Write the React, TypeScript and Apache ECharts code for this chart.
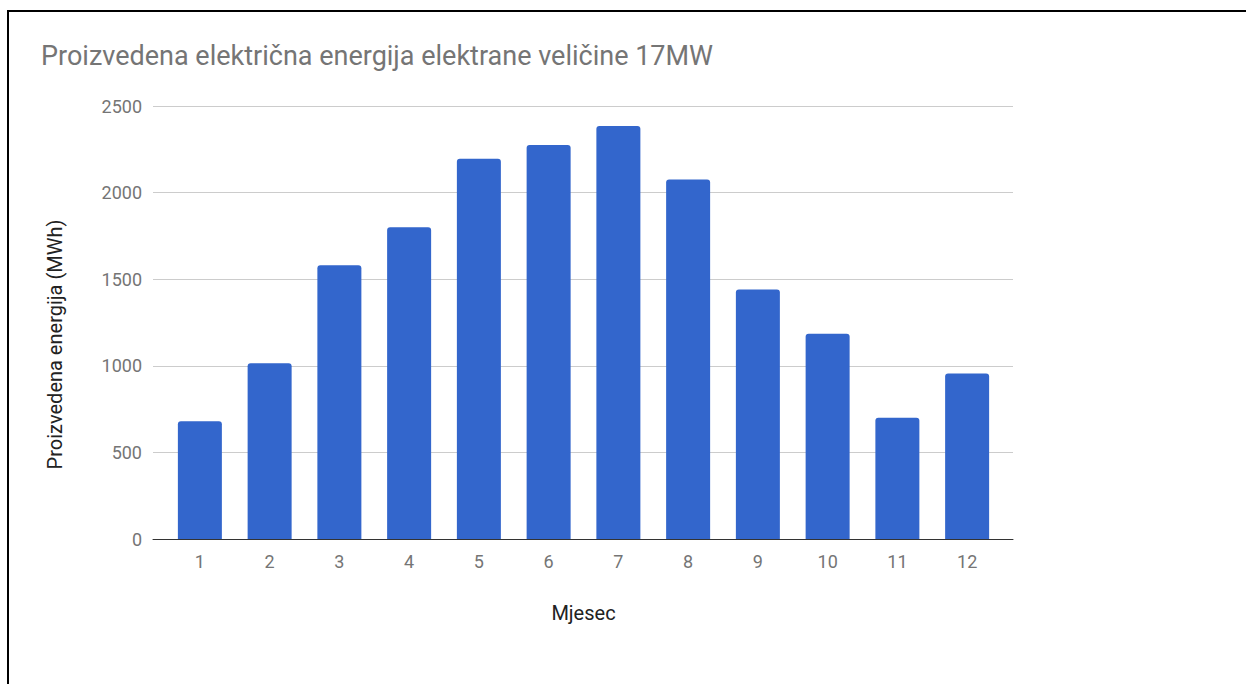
import React, { useEffect, useRef } from "react";
import * as echarts from "echarts";

const title = "Proizvedena električna energija elektrane veličine 17MW";
const yAxisName = "Proizvedena energija (MWh)";
const xAxisName = "Mjesec";
const months = ["1", "2", "3", "4", "5", "6", "7", "8", "9", "10", "11", "12"];
const energy = [680, 1015, 1580, 1800, 2195, 2275, 2385, 2075, 1440, 1185, 700, 955];
const yTicks = [0, 500, 1000, 1500, 2000, 2500];

export default function App() {
  const ref = useRef<HTMLDivElement>(null);
  useEffect(() => {
    if (!ref.current) return;
    const chart = echarts.init(ref.current, null, { renderer: "svg" });
    const font = "Roboto, Arial, sans-serif";
    const yMax = yTicks[yTicks.length - 1];
    const step = yTicks[1] - yTicks[0];
    chart.setOption({
      animation: false,
      backgroundColor: "#ffffff",
      title: {
        text: title,
        left: 36,
        top: 37,
        textStyle: { fontFamily: font, fontSize: 27, fontWeight: "normal", color: "#757575" },
      },
      grid: [
        { left: 153, top: 106, width: 860, bottom: 145 },
        { left: 165, top: 106, width: 837, bottom: 145 },
      ],
      xAxis: [
        {
          gridIndex: 0,
          type: "value",
          min: 0,
          max: 1,
          axisLine: { show: true, onZero: false, lineStyle: { color: "#333333", width: 1 } },
          axisTick: { show: false },
          axisLabel: { show: false },
          splitLine: { show: false },
        },
        {
          gridIndex: 1,
          type: "category",
          data: months,
          axisLine: { show: false },
          axisTick: { show: false },
          axisLabel: { fontFamily: font, fontSize: 18, color: "#757575", margin: 13 },
          name: xAxisName,
          nameLocation: "middle",
          nameGap: 64,
          nameTextStyle: { fontFamily: font, fontSize: 20, color: "#222222" },
        },
      ],
      yAxis: [
        {
          gridIndex: 0,
          type: "value",
          min: 0,
          max: yMax,
          interval: step,
          axisLine: { show: false },
          axisTick: { show: false },
          axisLabel: {
            fontFamily: font,
            fontSize: 18,
            color: "#757575",
            margin: 11,
            formatter: (v: number) => String(v),
          },
          splitLine: { lineStyle: { color: "#cccccc", width: 1 } },
          name: yAxisName,
          nameLocation: "middle",
          nameGap: 88,
          nameTextStyle: { fontFamily: font, fontSize: 20, color: "#222222", padding: [0, 44, 0, 0] },
        },
        {
          gridIndex: 1,
          type: "value",
          min: 0,
          max: yMax,
          interval: step,
          show: false,
          splitLine: { show: false },
        },
      ],
      series: [
        {
          type: "bar",
          xAxisIndex: 1,
          yAxisIndex: 1,
          data: energy,
          barWidth: 44,
          itemStyle: { color: "#3366cc", borderRadius: [3, 3, 0, 0] },
        },
      ],
      graphic: [
        { type: "rect", left: 7, top: 10, shape: { width: 1239, height: 2 }, style: { fill: "#000000" } },
        { type: "rect", left: 7, top: 10, shape: { width: 2, height: 674 }, style: { fill: "#000000" } },
      ],
    });
    return () => chart.dispose();
  }, []);
  return (
    <div
      ref={ref}
      style={{ position: "fixed", left: 0, top: 0, width: 1246, height: 684 }}
    />
  );
}
